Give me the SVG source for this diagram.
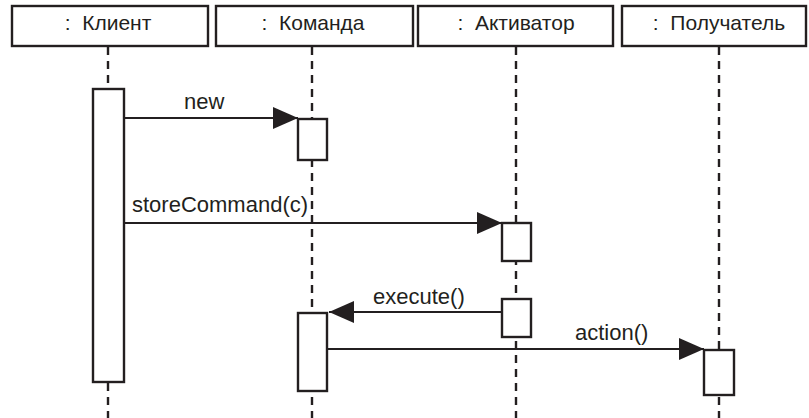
<svg xmlns="http://www.w3.org/2000/svg" width="809" height="418" viewBox="0 0 809 418">
  <style>
    .hdr { fill: #fff; stroke: #231f20; stroke-width: 2.4; }
    .act { fill: #fff; stroke: #231f20; stroke-width: 2.4; }
    .life { stroke: #231f20; stroke-width: 2.4; stroke-dasharray: 8 6; fill: none; }
    .msg { stroke: #231f20; stroke-width: 2.2; fill: none; }
    text { font-family: "Liberation Sans", Arial, sans-serif; fill: #231f20; }
    .ht { font-size: 21px; text-anchor: middle; white-space: pre; }
    .mt { font-size: 22px; }
  </style>
  <defs>
    <marker id="arr" markerUnits="userSpaceOnUse" markerWidth="26" markerHeight="22" refX="25" refY="11" orient="auto">
      <polygon points="0,0 25,11 0,22" fill="#231f20"/>
    </marker>
  </defs>
  <rect width="809" height="418" fill="#fff"/>

  <g id="lifelines">
    <line class="life" x1="108" y1="47" x2="108" y2="418"/>
    <line class="life" x1="312" y1="47" x2="312" y2="418"/>
    <line class="life" x1="516" y1="47" x2="516" y2="418"/>
    <line class="life" x1="719" y1="47" x2="719" y2="418"/>
  </g>

  <g id="client">
    <rect class="hdr" x="12" y="6" width="196" height="40"/>
    <text class="ht" x="108" y="30">:  Клиент</text>
    <rect class="act" x="93" y="89" width="31" height="293"/>
  </g>
  <g id="command">
    <rect class="hdr" x="216" y="6" width="197" height="40"/>
    <text class="ht" x="313" y="30">:  Команда</text>
    <rect class="act" x="298" y="119" width="29" height="41"/>
    <rect class="act" x="298" y="313" width="29" height="78"/>
  </g>
  <g id="activator">
    <rect class="hdr" x="418" y="6" width="195" height="40"/>
    <text class="ht" x="516" y="30">:  Активатор</text>
    <rect class="act" x="502" y="223" width="29" height="38"/>
    <rect class="act" x="502" y="299" width="29" height="38"/>
  </g>
  <g id="receiver">
    <rect class="hdr" x="622" y="6" width="184" height="40"/>
    <text class="ht" x="719" y="30">:  Получатель</text>
    <rect class="act" x="704" y="350" width="30" height="45"/>
  </g>

  <g id="connectors">
    <line class="msg" x1="124" y1="118" x2="298" y2="118" marker-end="url(#arr)"/>
    <text class="mt" x="184" y="109">new</text>
    <line class="msg" x1="124" y1="223" x2="502" y2="223" marker-end="url(#arr)"/>
    <text class="mt" x="132" y="212">storeCommand(c)</text>
    <line class="msg" x1="502" y1="312" x2="329" y2="312" marker-end="url(#arr)"/>
    <text class="mt" x="373" y="304">execute()</text>
    <line class="msg" x1="327" y1="349" x2="704" y2="349" marker-end="url(#arr)"/>
    <text class="mt" x="575" y="340">action()</text>
  </g>
</svg>
